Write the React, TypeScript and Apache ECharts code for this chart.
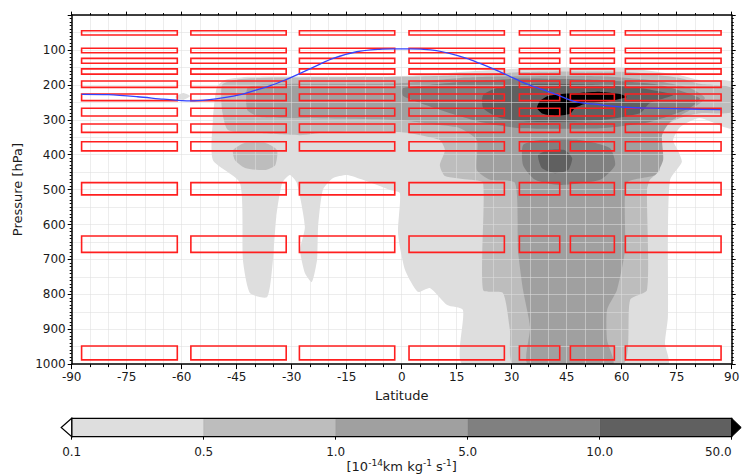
import React, { useEffect, useRef } from "react";
import * as echarts from "echarts";

const FONT = "DejaVu Sans";

// Red grid boxes: latitude bands (deg) and pressure bands (hPa)
const boxLatBands: number[][] = [
  [-87.3, -61.2], [-57.5, -31.5], [-27.9, -1.9], [2.0, 28.0], [32.1, 43.1], [46.0, 58.0], [61.0, 87.1],
];
const boxPresBands: number[][] = [
  [45, 57], [95, 108], [124, 138], [154, 169], [189, 207], [226, 245], [267, 289],
  [312, 336], [363, 389], [480, 515], [633, 680], [948, 988],
];

// Blue tropopause-like line
const tropLat = [-87.3, -80, -72, -65, -60, -57.5, -53, -48, -44, -41.3, -36, -31.8, -27.7, -23, -18.7, -12.3, -6, -2, 2, 6, 9.5, 13, 17.7, 21, 24.5, 29, 33.5, 38, 42.3, 47, 54, 61, 70, 78, 87];
const tropPres = [227, 228, 234, 241, 245, 246, 243, 236, 228, 220, 203, 186, 167, 144, 124, 105, 98, 97, 97, 98, 102, 110, 124, 137, 152, 173, 195, 212, 228, 247, 257, 264, 267, 269, 271];

// Colour bar
const cbBounds = ["0.1", "0.5", "1.0", "5.0", "10.0", "50.0"];
const cbColors = ["#dedede", "#bdbdbd", "#a0a0a0", "#808080", "#606060"];
const overColor = "#000000";

// Filled contour outlines (lat, hPa) per level
const level1Polys: number[][][] = [
  [
    [-50.4, 206], [-48.2, 186], [-41.4, 177], [-20, 176], [-0.5, 175], [15.9, 163], [34.2, 152], [61.4, 152], [75.9, 172], [81.3, 186], [90, 192],
    [90, 324], [81.3, 295], [75.9, 321], [74.0, 358], [75.3, 387], [76.4, 421], [73.2, 472], [72.6, 644], [72.6, 865], [71.8, 940], [72.6, 1000],
    [16.7, 1000], [16.7, 845], [12.4, 831], [7.7, 782], [4.4, 793], [0.9, 730], [-1.0, 624], [-0.5, 510], [-3.2, 501], [-10.6, 472], [-14.9, 458],
    [-18.7, 467], [-21.5, 501], [-22.8, 607], [-23.1, 702], [-24.5, 765], [-26.4, 739], [-27.7, 673], [-26.4, 607], [-28.6, 481], [-30.5, 458],
    [-32.6, 481], [-34.2, 578], [-35.3, 722], [-36.7, 808], [-41.4, 796], [-43.3, 702], [-44.1, 481], [-51.5, 415], [-51.5, 301],
  ],
  [[-61.8, 235], [-59.6, 223], [-57.7, 232], [-59.6, 243]],
];
const level2Polys: number[][][] = [
  [
    [-49.0, 200], [-45.5, 186], [-38.6, 180], [-0.5, 177], [15.9, 172], [34.2, 163], [61.4, 163], [75.9, 180], [81.3, 197], [90, 209],
    [90, 278], [81.3, 281], [75.9, 295], [71.0, 324], [69.1, 387], [70.4, 444], [67.7, 472], [66.9, 501], [66.9, 788], [62.3, 816], [60.4, 1000],
    [30.4, 1000], [29.5, 902], [27.6, 796], [22.2, 788], [22.2, 481], [18.6, 472], [11.8, 461], [10.4, 430], [11.8, 387], [10.4, 358], [5.0, 344],
    [-0.5, 335], [-19.6, 335], [-27.7, 344], [-38.6, 338], [-47.4, 329], [-49.0, 272],
  ],
  [[-46.0, 387], [-42.7, 366], [-37.3, 366], [-34.0, 387], [-34.5, 430], [-37.3, 444], [-42.7, 438], [-45.5, 415]],
];
const level3Polys: number[][][] = [
  [
    [-42.1, 209], [-38.6, 200], [-27.7, 197], [-0.5, 195], [15.9, 180], [32.3, 175], [54.1, 175], [67.7, 186], [78.6, 209], [82.7, 238],
    [78.6, 272], [73.2, 306], [71.0, 344], [71.3, 415], [69.1, 458], [61.4, 481], [60.9, 673], [58.7, 788], [56.0, 845], [56.0, 931], [57.6, 1000],
    [34.4, 1000], [35.0, 894], [33.1, 788], [31.7, 673], [30.9, 481], [24.1, 472], [20.5, 444], [20.5, 358], [15.9, 324], [10.4, 315],
    [-0.5, 301], [-27.7, 295], [-38.6, 292], [-42.1, 272],
  ],
];
const level4Polys: number[][][] = [
  [[0.4, 209], [7.7, 200], [15.9, 192], [32.3, 182], [54.1, 186], [70.4, 200], [81.3, 238], [78.6, 266], [67.7, 306], [54.1, 324], [32.3, 324], [21.4, 306], [15.9, 290], [7.7, 262], [0.4, 232]],
  [[33.1, 372], [37.7, 358], [48.6, 358], [56.8, 381], [58.2, 430], [54.1, 472], [43.2, 487], [36.4, 472], [33.1, 430]],
];
const level5Polys: number[][][] = [
  [[22.2, 229], [26.8, 206], [37.7, 197], [54.1, 200], [65.0, 209], [74.0, 229], [67.7, 252], [65.0, 281], [54.1, 301], [37.7, 306], [26.8, 295], [22.2, 266]],
  [[37.2, 401], [39.9, 387], [44.5, 387], [46.5, 410], [45.4, 444], [41.8, 453], [38.2, 438]],
];
const level6Polys: number[][][] = [
  [[36.9, 266], [37.7, 246], [39.9, 232], [43.2, 226], [48.6, 223], [54.1, 220], [59.5, 226], [61.4, 235], [56.8, 246], [50.0, 255], [47.3, 266], [45.9, 283], [41.8, 289], [38.5, 283]],
];

const contourLayers = [
  { color: cbColors[0], polys: level1Polys },
  { color: cbColors[1], polys: level2Polys },
  { color: cbColors[2], polys: level3Polys },
  { color: cbColors[3], polys: level4Polys },
  { color: cbColors[4], polys: level5Polys },
  { color: overColor, polys: level6Polys },
];

const GRID_COLOR = "rgba(222,222,222,0.55)";
const TEXT_COLOR = "#1a1a1a";

export default function App() {
  const ref = useRef<HTMLDivElement>(null);
  useEffect(() => {
    document.body.style.margin = "0";
    document.body.style.overflow = "hidden";
    if (!ref.current) return;
    const chart = echarts.init(ref.current, null, { renderer: "svg" });

    const contourSeries = contourLayers.map((layer) => ({
      type: "custom",
      xAxisIndex: 0,
      yAxisIndex: 0,
      clip: true,
      silent: true,
      z: 1,
      data: layer.polys.map((poly) => poly[0]),
      renderItem: (params: any, api: any) => {
        const poly = layer.polys[params.dataIndex];
        return {
          type: "polygon",
          shape: { points: poly.map((pt) => api.coord(pt)), smooth: 0.2 },
          style: { fill: layer.color, stroke: null },
        };
      },
    }));

    const boxData: number[][] = [];
    boxPresBands.forEach(([p1, p2]) =>
      boxLatBands.forEach(([l1, l2]) => boxData.push([l1, l2, p1, p2]))
    );

    const option: any = {
      animation: false,
      grid: [
        { left: 71.7, top: 15.1, width: 660, height: 349, containLabel: false, outerBoundsMode: "none" },
        { left: 71.7, top: 418.3, width: 660, height: 18.4, containLabel: false, outerBoundsMode: "none" },
      ],
      xAxis: [
        {
          gridIndex: 0, type: "value", min: -90, max: 90, interval: 15, position: "bottom", z: 3,
          axisLine: { show: true, onZero: false, lineStyle: { color: "#000", width: 1.5 } },
          axisTick: { show: true, length: 5, lineStyle: { color: "#000", width: 1 } },
          minorTick: { show: true, splitNumber: 3, length: 3, lineStyle: { color: "#000", width: 1 } },
          axisLabel: { fontFamily: FONT, fontSize: 12, color: TEXT_COLOR, margin: 7 },
          splitLine: { show: true, lineStyle: { color: GRID_COLOR, width: 1 } },
          minorSplitLine: { show: true, lineStyle: { color: GRID_COLOR, width: 1 } },
          name: "Latitude", nameLocation: "middle", nameGap: 25,
          nameTextStyle: { fontFamily: FONT, fontSize: 13, color: TEXT_COLOR },
        },
        {
          gridIndex: 0, type: "value", min: -90, max: 90, interval: 15, position: "top", z: 3,
          axisLine: { show: true, onZero: false, lineStyle: { color: "#000", width: 1.5 } },
          axisTick: { show: true, length: 3.5, lineStyle: { color: "#000", width: 1 } },
          minorTick: { show: true, splitNumber: 3, length: 2, lineStyle: { color: "#000", width: 1 } },
          axisLabel: { show: false },
          splitLine: { show: false },
        },
        {
          gridIndex: 1, type: "value", min: 0, max: 5, interval: 1, position: "bottom",
          axisLine: { show: false },
          axisTick: { show: true, length: 3, lineStyle: { color: "#000", width: 1 } },
          axisLabel: {
            fontFamily: FONT, fontSize: 12, color: TEXT_COLOR, margin: 9,
            alignMaxLabel: "right",
            formatter: (v: number) => cbBounds[Math.round(v)] ?? "",
          },
          splitLine: { show: false },
          name: "{n|[10}{sup|-14}{n|km kg}{sup|-1}{n| s}{sup|-1}{n|]}",
          nameLocation: "middle", nameGap: 21,
          nameTextStyle: {
            fontFamily: FONT, fontSize: 13, color: TEXT_COLOR, lineHeight: 14,
            rich: {
              n: { fontFamily: FONT, fontSize: 13, color: TEXT_COLOR, lineHeight: 14, verticalAlign: "bottom" },
              sup: { fontFamily: FONT, fontSize: 9, color: TEXT_COLOR, lineHeight: 14, verticalAlign: "top" },
            },
          },
        },
      ],
      yAxis: [
        {
          gridIndex: 0, type: "value", min: 0, max: 1000, interval: 100, inverse: true, position: "left", z: 3,
          axisLine: { show: true, onZero: false, lineStyle: { color: "#000", width: 1.5 } },
          axisTick: { show: true, length: 4, lineStyle: { color: "#000", width: 1 } },
          minorTick: { show: true, splitNumber: 10, length: 2, lineStyle: { color: "#000", width: 1 } },
          axisLabel: {
            fontFamily: FONT, fontSize: 12, color: TEXT_COLOR, margin: 6,
            formatter: (v: number) => (v === 0 ? "" : String(v)),
          },
          splitLine: { show: false },
          name: "Pressure [hPa]", nameLocation: "middle", nameGap: 40, nameRotate: 90,
          nameTextStyle: { fontFamily: FONT, fontSize: 13, color: TEXT_COLOR },
        },
        {
          gridIndex: 0, type: "value", min: 0, max: 1000, interval: 100, inverse: true, position: "right", z: 3,
          axisLine: { show: true, onZero: false, lineStyle: { color: "#000", width: 1.5 } },
          axisTick: { show: true, length: 4, lineStyle: { color: "#000", width: 1 } },
          minorTick: { show: true, splitNumber: 10, length: 2, lineStyle: { color: "#000", width: 1 } },
          axisLabel: { show: false },
          splitLine: { show: false },
        },
        {
          gridIndex: 0, type: "value", min: 0, max: 1000, interval: 50, inverse: true, position: "left", z: 3,
          axisLine: { show: false }, axisTick: { show: false }, axisLabel: { show: false },
          splitLine: { show: true, lineStyle: { color: GRID_COLOR, width: 1 } },
        },
        { gridIndex: 1, type: "value", min: 0, max: 1, show: false },
      ],
      series: [
        ...contourSeries,
        {
          type: "custom",
          xAxisIndex: 0, yAxisIndex: 0, z: 4, silent: true,
          encode: { x: [0, 1], y: [2, 3] },
          data: boxData,
          renderItem: (params: any, api: any) => {
            const a = api.coord([api.value(0), api.value(2)]);
            const b = api.coord([api.value(1), api.value(3)]);
            return {
              type: "rect",
              shape: { x: a[0], y: a[1], width: b[0] - a[0], height: b[1] - a[1] },
              style: { fill: "rgba(0,0,0,0)", stroke: "#ff1f1f", lineWidth: 1.6 },
            };
          },
        },
        {
          type: "line",
          xAxisIndex: 0, yAxisIndex: 0, z: 5, silent: true,
          data: tropLat.map((lat, i) => [lat, tropPres[i]]),
          smooth: 0.3, showSymbol: false, symbol: "none",
          lineStyle: { color: "#3344ff", width: 1.3 },
        },
        {
          type: "custom",
          xAxisIndex: 2, yAxisIndex: 3, z: 2, silent: true,
          encode: { x: [0, 1], y: [2, 3] },
          data: cbColors.map((c, i) => [i, i + 1, 0, 1]),
          renderItem: (params: any, api: any) => {
            const a = api.coord([api.value(0), 1]);
            const b = api.coord([api.value(1), 0]);
            return {
              type: "rect",
              shape: { x: a[0], y: a[1], width: b[0] - a[0], height: b[1] - a[1] },
              style: { fill: cbColors[params.dataIndex], stroke: "rgba(0,0,0,0.12)", lineWidth: 0.6 },
            };
          },
        },
        {
          type: "custom",
          xAxisIndex: 2, yAxisIndex: 3, z: 3, silent: true, clip: false,
          encode: { x: [0, 1], y: [2, 3] },
          data: [[0, 5, 0, 1]],
          renderItem: (params: any, api: any) => {
            const a = api.coord([0, 1]);
            const b = api.coord([5, 0]);
            const midY = (a[1] + b[1]) / 2;
            return {
              type: "group",
              children: [
                {
                  type: "rect",
                  shape: { x: a[0], y: a[1], width: b[0] - a[0], height: b[1] - a[1] },
                  style: { fill: "rgba(0,0,0,0)", stroke: "#000", lineWidth: 1.2 },
                },
                {
                  type: "polygon",
                  shape: { points: [[a[0], a[1]], [a[0] - 10.5, midY], [a[0], b[1]]] },
                  style: { fill: "#fff", stroke: "#000", lineWidth: 1.2 },
                },
                {
                  type: "polygon",
                  shape: { points: [[b[0], a[1]], [b[0] + 9.5, midY], [b[0], b[1]]] },
                  style: { fill: overColor, stroke: "#000", lineWidth: 1 },
                },
              ],
            };
          },
        },
      ],
    };
    chart.setOption(option);
    return () => chart.dispose();
  }, []);
  return <div ref={ref} style={{ width: 742, height: 475 }} />;
}
